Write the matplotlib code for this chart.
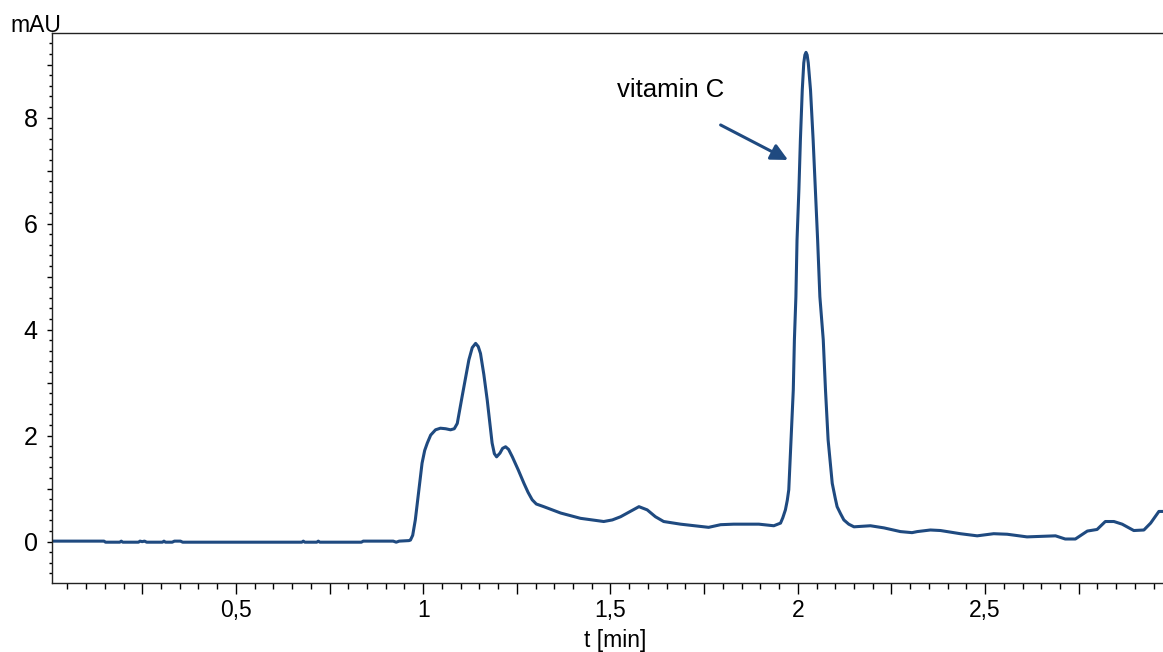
import numpy as np
import matplotlib
matplotlib.use("Agg")
import matplotlib.pyplot as plt
from matplotlib.ticker import FixedLocator, MultipleLocator, FuncFormatter

plt.rcParams["font.family"] = ["Liberation Sans", "DejaVu Sans"]

# retention time [min] and absorbance [mAU] of the chromatogram
t_min = [
    0.010, 0.148, 0.152, 0.190, 0.194, 0.198, 0.240, 0.244, 0.250, 0.256,
    0.262, 0.304, 0.308, 0.312, 0.330, 0.336, 0.352, 0.358, 0.676, 0.680,
    0.684, 0.716, 0.720, 0.724, 0.835, 0.840, 0.920, 0.928, 0.936, 0.962,
    0.966, 0.972, 0.979, 0.988, 0.997, 1.004, 1.011, 1.020, 1.033, 1.046,
    1.060, 1.073, 1.083, 1.091, 1.104, 1.122, 1.131, 1.140, 1.147, 1.153,
    1.162, 1.171, 1.184, 1.190, 1.196, 1.205, 1.212, 1.220, 1.228, 1.238,
    1.254, 1.269, 1.280, 1.291, 1.302, 1.322, 1.367, 1.420, 1.482, 1.505,
    1.527, 1.553, 1.576, 1.598, 1.620, 1.642, 1.687, 1.762, 1.794, 1.829,
    1.896, 1.936, 1.954, 1.960, 1.967, 1.972, 1.976, 1.982, 1.988, 1.991,
    1.995, 1.998, 2.003, 2.007, 2.012, 2.016, 2.019, 2.022, 2.025, 2.028,
    2.034, 2.041, 2.047, 2.053, 2.059, 2.068, 2.074, 2.081, 2.092, 2.100,
    2.105, 2.114, 2.123, 2.136, 2.150, 2.194, 2.230, 2.274, 2.305, 2.319,
    2.354, 2.381, 2.434, 2.479, 2.523, 2.559, 2.612, 2.688, 2.714, 2.741,
    2.773, 2.799, 2.821, 2.844, 2.866, 2.897, 2.924, 2.942, 2.964, 2.977,
]
absorb = [
    0.01, 0.01, -0.01, -0.01, 0.01, -0.01, -0.01, 0.01, 0.00, 0.01,
    -0.01, -0.01, 0.01, -0.01, -0.01, 0.01, 0.01, -0.01, -0.01, 0.01,
    -0.01, -0.01, 0.01, -0.01, -0.01, 0.01, 0.01, -0.01, 0.01, 0.02,
    0.03, 0.12, 0.41, 0.95, 1.48, 1.72, 1.86, 2.01, 2.11, 2.14,
    2.13, 2.11, 2.13, 2.23, 2.74, 3.43, 3.66, 3.74, 3.68, 3.55,
    3.15, 2.67, 1.86, 1.66, 1.60, 1.67, 1.76, 1.79, 1.74, 1.60,
    1.35, 1.10, 0.93, 0.79, 0.71, 0.66, 0.54, 0.44, 0.38, 0.41,
    0.47, 0.57, 0.66, 0.60, 0.47, 0.38, 0.33, 0.27, 0.32, 0.33,
    0.33, 0.30, 0.35, 0.45, 0.60, 0.78, 0.98, 1.92, 2.86, 3.81,
    4.62, 5.69, 6.64, 7.58, 8.52, 9.03, 9.18, 9.23, 9.18, 9.03,
    8.52, 7.58, 6.64, 5.69, 4.62, 3.81, 2.86, 1.92, 1.10, 0.82,
    0.66, 0.53, 0.41, 0.33, 0.28, 0.30, 0.26, 0.19, 0.17, 0.19,
    0.22, 0.21, 0.15, 0.11, 0.15, 0.14, 0.09, 0.11, 0.05, 0.05,
    0.20, 0.23, 0.38, 0.38, 0.33, 0.21, 0.22, 0.35, 0.57, 0.57,
]

peak_label = "vitamin C"
label_pos = (1.518, 8.39)
arrow_tail = (1.794, 7.86)
arrow_tip = (1.974, 7.20)

line_color = "#1f4a80"

fig = plt.figure(figsize=(11.63, 6.52), dpi=100)
ax = fig.add_axes([0.045, 0.1063, 0.955, 0.8427])

ax.plot(t_min, absorb, color=line_color, lw=2.2, solid_joinstyle="round",
        solid_capstyle="round")

ax.set_xlim(0.01, 2.975)
ax.set_ylim(-0.774, 9.59)

# x: ticks every 0.25, labels every 0.5, minor every 0.05
ax.xaxis.set_major_locator(FixedLocator(np.arange(0.25, 3.0, 0.25)))
ax.xaxis.set_minor_locator(MultipleLocator(0.05))


def x_fmt(v, pos):
    if abs(v / 0.5 - round(v / 0.5)) > 1e-6:
        return ""
    return f"{v:g}".replace(".", ",")


ax.xaxis.set_major_formatter(FuncFormatter(x_fmt))

ax.yaxis.set_major_locator(MultipleLocator(1))
ax.yaxis.set_minor_locator(MultipleLocator(0.2))
ax.yaxis.set_major_formatter(
    FuncFormatter(lambda v, pos: f"{v:g}" if round(v) % 2 == 0 else ""))

ax.tick_params(axis="x", which="major", direction="out", length=8, width=1,
               labelsize=16.5, pad=4)
ax.tick_params(axis="x", which="minor", direction="out", length=4.3, width=1)
ax.tick_params(axis="y", which="major", direction="out", length=3.6, width=1,
               labelsize=18, pad=7)
ax.tick_params(axis="y", which="minor", direction="out", length=2.2, width=1)

ax.spines["right"].set_visible(False)
for s in ("left", "bottom", "top"):
    ax.spines[s].set_linewidth(1.0)
    ax.spines[s].set_color("#222222")

ax.set_xlabel("t [min]", fontsize=16.5)
ax.xaxis.set_label_coords((615 - 52.3) / (1163 - 52.3), -0.085)
fig.text(10 / 1163, 1 - 31.7 / 652, "mAU", fontsize=16.5, ha="left",
         va="baseline")

ax.text(label_pos[0], label_pos[1], peak_label, fontsize=18.5, ha="left",
        va="baseline")
ax.annotate("", xy=arrow_tip, xytext=arrow_tail,
            arrowprops=dict(arrowstyle="-|>,head_length=1.0,head_width=0.5",
                            color=line_color, lw=2.2, shrinkA=0, shrinkB=0))

fig.savefig("out.png", dpi=100)
